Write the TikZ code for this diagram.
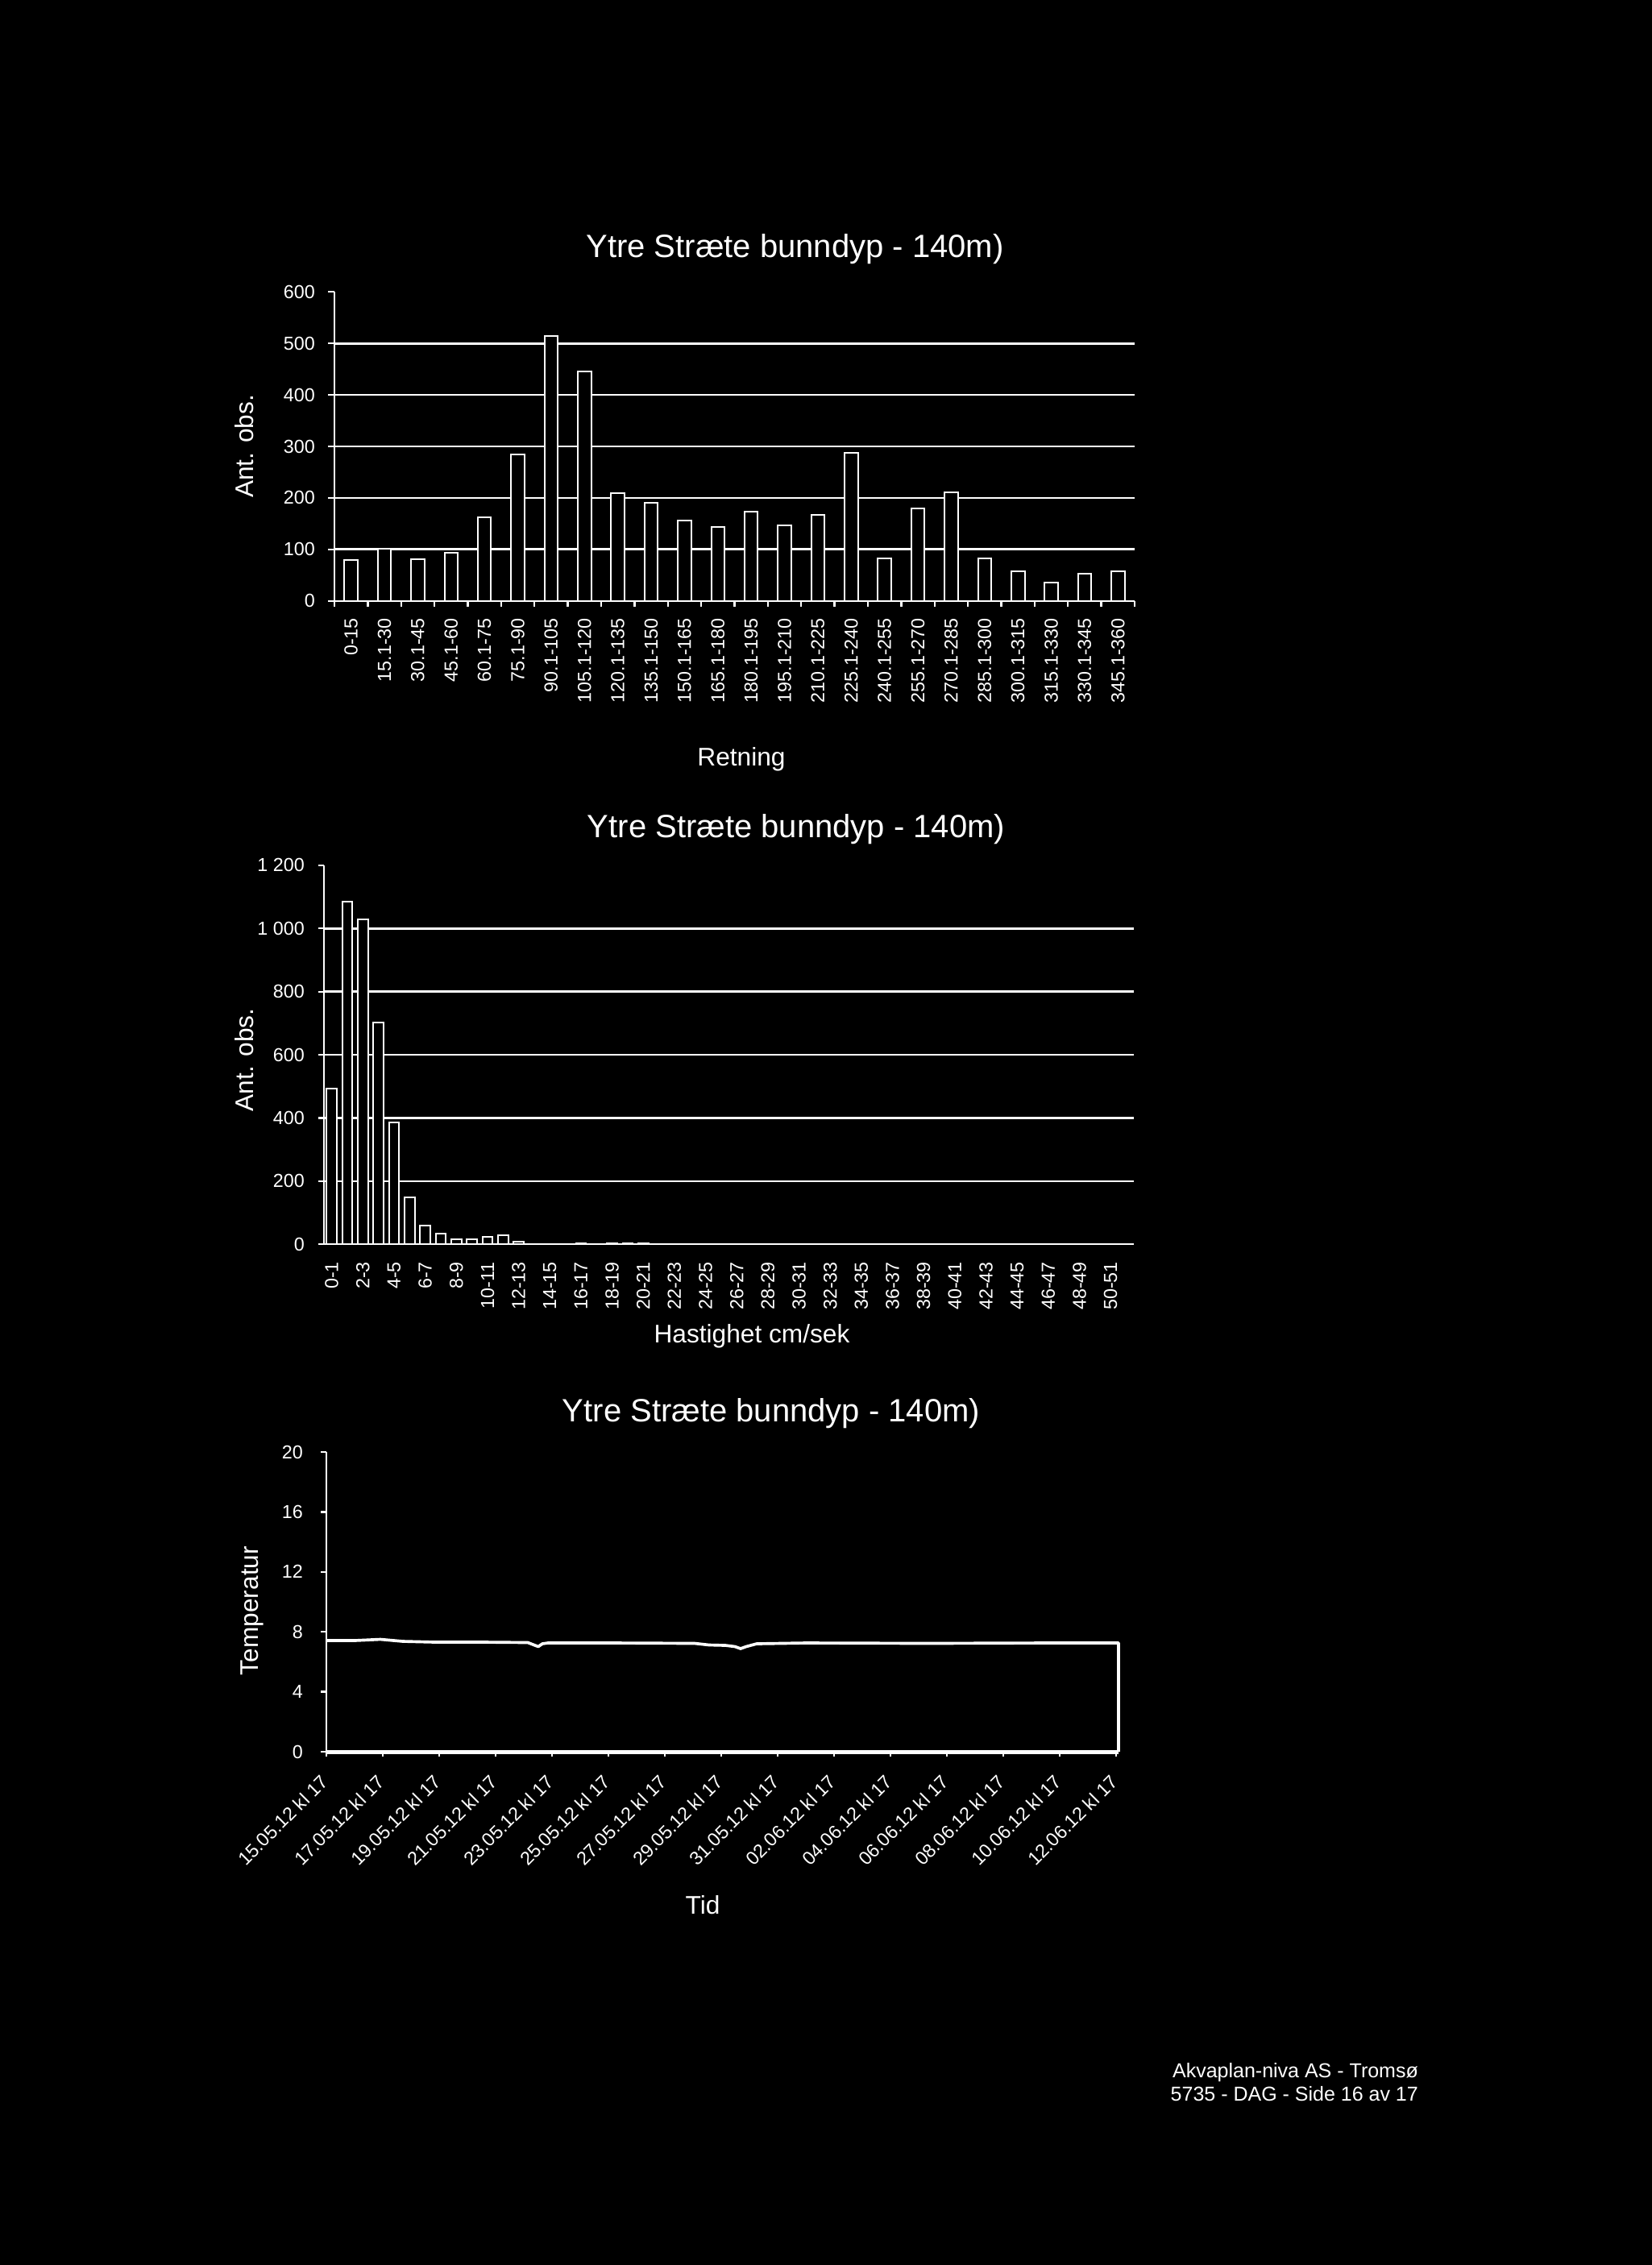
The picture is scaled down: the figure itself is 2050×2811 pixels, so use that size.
\documentclass[tikz,border=0pt]{standalone}
\usepackage{fontspec}
\setmainfont{Liberation Sans}

\begin{document}
\begin{tikzpicture}[x=0.3pt,y=0.3pt,yscale=-1,xscale=1,color=white,
  grid/.style={line width=0.8pt},
  axis/.style={line width=0.7pt},
  bar/.style={line width=0.6pt,fill=black},
  series/.style={line width=1.1pt,line join=round},
  ticklab/.style={inner sep=0.75pt,font=\fontsize{7}{8}\selectfont},
  axlab/.style={inner sep=0.75pt,font=\fontsize{9.5}{11}\selectfont},
  charttitle/.style={inner sep=0.75pt,font=\fontsize{12}{14}\selectfont},
  foot/.style={inner sep=0.75pt,font=\fontsize{7.5}{9}\selectfont}]

% page
\fill[black] (0,0) rectangle (2050,2811);

%%%%% Chart 1: Retning
% Text Node
\draw (986.5,319) node [charttitle,anchor=base] (title1) {Ytre Stræte bunndyp - 140m)};
% Text Node
\draw (303.5,554) node [axlab,rotate=90] (obs1) {Ant. obs.};
% Text Node
\draw (920,950) node [axlab,anchor=base] (retning) {Retning};

%Grid
\foreach \v in {100,200,...,500}
  \draw[grid] (415,{745.7-0.639*\v}) -- (1408,{745.7-0.639*\v});
%Bars
\foreach \v [count=\i] in {79,102,81,93,163,285,515,445,210,191,156,143,173,146,167,287,83,180,211,83,57,36,52,58}
  \draw[bar] ({415+(\i-0.5)*41.375-8.3},745.7) rectangle ({415+(\i-0.5)*41.375+8.3},{745.7-0.639*\v});
%Axes
\draw[axis] (415,362) -- (415,745.7) -- (1408,745.7);
\foreach \v in {0,100,...,600}{
  \draw[axis] (407,{745.7-0.639*\v}) -- (415,{745.7-0.639*\v});
  \draw (394,{745.7-0.639*\v}) node [ticklab,anchor=east] (a\v) {\v};
}
\foreach \i in {0,...,24}
  \draw[axis] ({415+41.375*\i},745.7) -- ({415+41.375*\i},753);
% Text Node
\foreach \t [count=\i] in {0-15,15.1-30,30.1-45,45.1-60,60.1-75,75.1-90,90.1-105,105.1-120,120.1-135,135.1-150,150.1-165,165.1-180,180.1-195,195.1-210,210.1-225,225.1-240,240.1-255,255.1-270,270.1-285,285.1-300,300.1-315,315.1-330,330.1-345,345.1-360}
  \draw ({415+(\i-0.5)*41.375},764) node [ticklab,rotate=90,anchor=east] (r\i) {\t};

%%%%% Chart 2: Hastighet
% Text Node
\draw (988,1039) node [charttitle,anchor=base] (title2) {Ytre Stræte bunndyp - 140m)};
% Text Node
\draw (303.5,1315.5) node [axlab,rotate=90] (obs2) {Ant. obs.};
% Text Node
\draw (933,1666) node [axlab,anchor=base] (hast) {Hastighet cm/sek};

%Grid
\foreach \v in {200,400,...,1000}
  \draw[grid] (402,{1544.3-0.392*\v}) -- (1407,{1544.3-0.392*\v});
%Bars
\foreach \v [count=\i] in {494,1085,1030,702,387,149,60,35,16,16,24,28,9,0,0,0,3,0,3,3,3}
  \draw[bar] ({402+(\i-0.5)*19.33-6.3},1544.3) rectangle ({402+(\i-0.5)*19.33+6.3},{1544.3-0.392*\v});
%Axes
\draw[axis] (402,1073.9) -- (402,1544.3) -- (1407,1544.3);
\foreach \v/\t in {0/0,200/200,400/400,600/600,800/800,1000/1 000,1200/1 200}{
  \draw[axis] (395,{1544.3-0.392*\v}) -- (402,{1544.3-0.392*\v});
  \draw (381,{1544.3-0.392*\v}) node [ticklab,anchor=east] (b\v) {\t};
}
% Text Node
\foreach \t [count=\i] in {0-1,2-3,4-5,6-7,8-9,10-11,12-13,14-15,16-17,18-19,20-21,22-23,24-25,26-27,28-29,30-31,32-33,34-35,36-37,38-39,40-41,42-43,44-45,46-47,48-49,50-51}
  \draw ({402+(2*\i-1.5)*19.33},1563) node [ticklab,rotate=90,anchor=east] (h\i) {\t};

%%%%% Chart 3: Temperatur
% Text Node
\draw (957,1764) node [charttitle,anchor=base] (title3) {Ytre Stræte bunndyp - 140m)};
% Text Node
\draw (313,1999) node [axlab,rotate=90] (temp) {Temperatur};
% Text Node
\draw (872,2375) node [axlab,anchor=base] (tid) {Tid};

%Axes
\draw[axis] (405,1802) -- (405,2174);
\foreach \v in {0,4,...,20}{
  \draw[axis] (398,{2174-18.6*\v}) -- (405,{2174-18.6*\v});
  \draw (379,{2174-18.6*\v}) node [ticklab,anchor=east] (c\v) {\v};
}
\foreach \i in {0,...,14}
  \draw[axis] ({405+70*\i},2174) -- ({405+70*\i},2180);
%Series
\draw[series] (405,2036) -- (440,2036) -- (472,2034.5) -- (500,2037) -- (540,2038) -- (600,2038)
  -- (655,2038.5) -- (664,2042) -- (668,2043.5) -- (673,2040) -- (680,2039) -- (760,2039)
  -- (862,2039.5) -- (880,2041.5) -- (900,2042) -- (912,2043.5) -- (919,2046) -- (926,2043.5)
  -- (939,2040) -- (1000,2039) -- (1150,2039.5) -- (1300,2039) -- (1388,2039) -- (1388,2174);
\draw[line width=1.5pt] (405,2174) -- (1388,2174);
% Text Node
\foreach \t [count=\i] in {15.05.12 kl 17,17.05.12 kl 17,19.05.12 kl 17,21.05.12 kl 17,23.05.12 kl 17,25.05.12 kl 17,27.05.12 kl 17,29.05.12 kl 17,31.05.12 kl 17,02.06.12 kl 17,04.06.12 kl 17,06.06.12 kl 17,08.06.12 kl 17,10.06.12 kl 17,12.06.12 kl 17}
  \draw ({405+70*(\i-1)},2205) node [ticklab,rotate=45,anchor=east] (d\i) {\t};

%%%%% Footer
% Text Node
\draw (1763,2578) node [foot,anchor=base east] (firm) {Akvaplan-niva AS - Tromsø};
% Text Node
\draw (1763,2607) node [foot,anchor=base east] (page) {5735 - DAG - Side 16 av 17};

\end{tikzpicture}
\end{document}
